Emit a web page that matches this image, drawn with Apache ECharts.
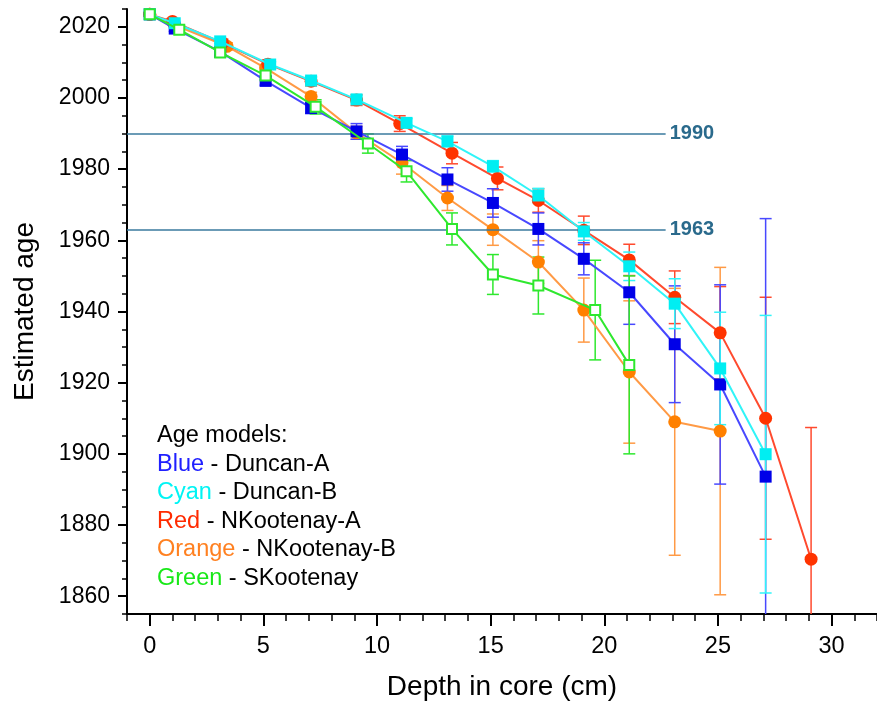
<!DOCTYPE html>
<html>
<head>
<meta charset="utf-8">
<script src="https://cdn.jsdelivr.net/npm/echarts@6/dist/echarts.min.js"></script>
<style>
html,body{margin:0;padding:0;background:#fff;}
#c{width:877px;height:709px;}
</style>
</head>
<body>
<div id="c"></div>
<script>
// ---- Data ----
const depthBlue = [0, 1.1, 3.1, 5.1, 7.1, 9.1, 11.1, 13.1, 15.1, 17.1, 19.1, 21.1, 23.1, 25.1, 27.1];
const ageBlue   = [2023.5, 2019.5, 2013, 2004.8, 1997.2, 1990.6, 1984.1, 1977.1, 1970.5, 1963.2, 1954.8, 1945.4, 1930.8, 1919.5, 1893.6];
const errBlue   = [0.5, 0.8, 1, 1.2, 1.6, 2.2, 2.3, 3.3, 4, 4.5, 4.5, 9, 16.4, 28, 72.5];

const depthCyan = [0, 1.1, 3.1, 5.3, 7.1, 9.1, 11.3, 13.1, 15.1, 17.1, 19.1, 21.1, 23.1, 25.1, 27.1];
const ageCyan   = [2023.5, 2021, 2015.9, 2009.4, 2004.9, 1999.6, 1993, 1987.8, 1980.8, 1972.6, 1962.5, 1952.7, 1942.2, 1924, 1899.9];
const errCyan   = [0.3, 0.5, 0.6, 0.8, 0.9, 1, 1.2, 1.5, 1.6, 2, 2.5, 4, 7, 15.8, 39];

const depthRed  = [0, 1.0, 3.2, 5.2, 7.1, 9.1, 11.0, 13.3, 15.3, 17.1, 19.1, 21.1, 23.1, 25.1, 27.1, 29.1];
const ageRed    = [2023.5, 2021.5, 2015.5, 2009.5, 2004.7, 1999.4, 1992.8, 1984.5, 1977.4, 1971.2, 1962.8, 1954.5, 1944, 1934, 1910, 1870.4];
const errRed    = [0.5, 0.8, 1, 1.2, 1.3, 1.5, 2.2, 3, 3.2, 3.3, 4, 4.4, 7.4, 13, 34, 37];

const depthOrange = [0, 1.1, 3.4, 5.1, 7.1, 9.1, 11.1, 13.1, 15.1, 17.1, 19.1, 21.1, 23.1, 25.1];
const ageOrange   = [2023.5, 2020.5, 2014.5, 2008.4, 2000.4, 1990.2, 1981.8, 1971.9, 1963.0, 1953.9, 1940.4, 1923, 1909, 1906.4];
const errOrange   = [0.5, 0.7, 1, 1, 1.2, 1.8, 3.2, 3.5, 4.4, 6, 9, 20, 37.5, 46];

const depthGreen = [0, 1.3, 3.1, 5.1, 7.3, 9.6, 11.3, 13.3, 15.1, 17.1, 19.6, 21.1];
const ageGreen   = [2023.5, 2019.2, 2012.8, 2006.3, 1997.5, 1987.2, 1979.4, 1963.2, 1950.4, 1947.3, 1940.4, 1925];
const errGreen   = [0.5, 1, 1.3, 1.2, 2, 2.7, 3, 4.5, 5.6, 8, 14, 25];

const xMajorTicks = [0, 5, 10, 15, 20, 25, 30];
const yMajorTicks = [1860, 1880, 1900, 1920, 1940, 1960, 1980, 2000, 2020];
const refYears = [1990, 1963];
const refLineEnd = 22.7;

const legendTitle = 'Age models:';
const legendColors = ['Blue', 'Cyan', 'Red', 'Orange', 'Green'];
const legendNames = ['Duncan-A', 'Duncan-B', 'NKootenay-A', 'NKootenay-B', 'SKootenay'];

// ---- Chart ----
const FONT = "'Liberation Sans', Arial, Helvetica, sans-serif";
const chart = echarts.init(document.getElementById('c'), null, {renderer: 'canvas'});

function pts(d, a) { return d.map((x, i) => [x, a[i]]); }
function errs(d, a, e) { return d.map((x, i) => [x, a[i] - e[i], a[i] + e[i]]); }

function errSeries(data, color, z) {
  return {
    type: 'custom',
    xAxisIndex: 0, yAxisIndex: 0,
    clip: true,
    z: z,
    silent: true,
    data: data,
    encode: {x: 0, y: [1, 2]},
    renderItem: function (params, api) {
      const x = api.value(0), lo = api.value(1), hi = api.value(2);
      const pl = api.coord([x, lo]);
      const ph = api.coord([x, hi]);
      const w = 6;
      const st = {stroke: color, lineWidth: 1.5};
      return {
        type: 'group',
        children: [
          {type: 'line', shape: {x1: pl[0], y1: pl[1], x2: ph[0], y2: ph[1]}, style: st},
          {type: 'line', shape: {x1: pl[0] - w, y1: pl[1], x2: pl[0] + w, y2: pl[1]}, style: st},
          {type: 'line', shape: {x1: ph[0] - w, y1: ph[1], x2: ph[0] + w, y2: ph[1]}, style: st}
        ]
      };
    }
  };
}

function lineSeries(name, data, lineColor, sym, size, itemStyle, z) {
  return {
    name: name,
    type: 'line',
    xAxisIndex: 0, yAxisIndex: 0,
    data: data,
    z: z,
    symbol: sym,
    symbolSize: size,
    showAllSymbol: true,
    clip: true,
    lineStyle: {color: lineColor, width: 2},
    itemStyle: itemStyle,
    emphasis: {disabled: true},
    animation: false
  };
}

const C = {
  blueM: '#0000e8', blueL: '#4848ff',
  cyanM: '#00eef2', cyanL: '#30f4f8',
  redM: '#ff3300', redL: '#ff4a2e',
  orangeM: '#ff8000', orangeL: '#ff9a45',
  green: '#2ee82e'
};

const refColor = '#3a7a9e';
const refLabelColor = '#2a6a8c';

const series = [
  errSeries(errs(depthOrange, ageOrange, errOrange), C.orangeL, 2),
  errSeries(errs(depthRed, ageRed, errRed), C.redL, 2),
  errSeries(errs(depthBlue, ageBlue, errBlue), C.blueL, 2),
  errSeries(errs(depthCyan, ageCyan, errCyan), C.cyanL, 2),
  errSeries(errs(depthGreen, ageGreen, errGreen), C.green, 2),
  lineSeries('NKootenay-B', pts(depthOrange, ageOrange), C.orangeL, 'circle', 13, {color: C.orangeM}, 3),
  lineSeries('NKootenay-A', pts(depthRed, ageRed), C.redL, 'circle', 13, {color: C.redM}, 4),
  lineSeries('Duncan-A', pts(depthBlue, ageBlue), C.blueL, 'rect', 12, {color: C.blueM}, 5),
  lineSeries('Duncan-B', pts(depthCyan, ageCyan), C.cyanL, 'rect', 12, {color: C.cyanM}, 6),
  lineSeries('SKootenay', pts(depthGreen, ageGreen), C.green, 'rect', 10, {color: '#ffffff', borderColor: C.green, borderWidth: 2}, 7),
  {
    type: 'line',
    xAxisIndex: 0, yAxisIndex: 0,
    data: [],
    z: 1,
    silent: true,
    markLine: {
      silent: true,
      symbol: 'none',
      animation: false,
      lineStyle: {color: refColor, width: 1.5, type: 'solid'},
      label: {
        show: true, position: 'end', distance: 4,
        color: refLabelColor, fontWeight: 'bold', fontSize: 20, fontFamily: FONT,
        formatter: function (p) { return String(p.data.value); }
      },
      data: refYears.map(y => [
        {coord: [-1, y], value: y},
        {coord: [refLineEnd, y], value: y}
      ])
    }
  }
];

const legendText = [
  '{k|' + legendTitle + '}',
  ...legendColors.map((c, i) => '{' + c.toLowerCase() + '|' + c + '}{k| - ' + legendNames[i] + '}')
].join('\n');

const richBase = {fontSize: 23.5, fontFamily: FONT, lineHeight: 28.5};

const plain = v => String(v);

const option = {
  backgroundColor: '#ffffff',
  animation: false,
  grid: {left: 127, right: 0, top: 9, bottom: 95, containLabel: false},
  xAxis: [
    {
      type: 'value', position: 'bottom', min: -1, max: 32, interval: 1,
      name: 'Depth in core (cm)', nameLocation: 'middle', nameGap: 59,
      nameTextStyle: {fontSize: 28, fontFamily: FONT, color: '#000'},
      axisLine: {show: true, onZero: false, lineStyle: {color: '#000', width: 2}},
      axisTick: {show: true, length: 7, lineStyle: {color: '#000', width: 1.5}},
      axisLabel: {show: false},
      splitLine: {show: false}
    },
    {
      type: 'value', position: 'bottom', min: -1, max: 32,
      axisLine: {show: false, onZero: false},
      axisTick: {show: true, length: 12, customValues: xMajorTicks, lineStyle: {color: '#000', width: 2}},
      axisLabel: {show: true, customValues: xMajorTicks, formatter: plain, fontSize: 23.5, fontFamily: FONT, color: '#000', margin: 21},
      splitLine: {show: false}
    }
  ],
  yAxis: [
    {
      type: 'value', position: 'left', min: 1855, max: 2025, interval: 5,
      name: 'Estimated age', nameLocation: 'middle', nameGap: 88,
      nameTextStyle: {fontSize: 28, fontFamily: FONT, color: '#000'},
      axisLine: {show: true, onZero: false, lineStyle: {color: '#000', width: 2}},
      axisTick: {show: true, length: 5, lineStyle: {color: '#000', width: 1.5}},
      axisLabel: {show: false},
      splitLine: {show: false}
    },
    {
      type: 'value', position: 'left', min: 1855, max: 2025,
      axisLine: {show: false, onZero: false},
      axisTick: {show: true, length: 9, customValues: yMajorTicks, lineStyle: {color: '#000', width: 2}},
      axisLabel: {show: true, customValues: yMajorTicks, formatter: plain, fontSize: 23, fontFamily: FONT, color: '#000', margin: 17},
      splitLine: {show: false}
    }
  ],
  graphic: [
    {
      type: 'text', left: 157, top: 424, z: 100,
      style: {
        text: legendText,
        font: '23.5px ' + FONT,
        rich: {
          k: Object.assign({fill: '#000000'}, richBase),
          blue: Object.assign({fill: '#2020ff'}, richBase),
          cyan: Object.assign({fill: '#00f4f4'}, richBase),
          red: Object.assign({fill: '#ff2a00'}, richBase),
          orange: Object.assign({fill: '#ff8020'}, richBase),
          green: Object.assign({fill: '#18e818'}, richBase)
        }
      }
    }
  ],
  series: series
};

chart.setOption(option);
</script>
</body>
</html>
